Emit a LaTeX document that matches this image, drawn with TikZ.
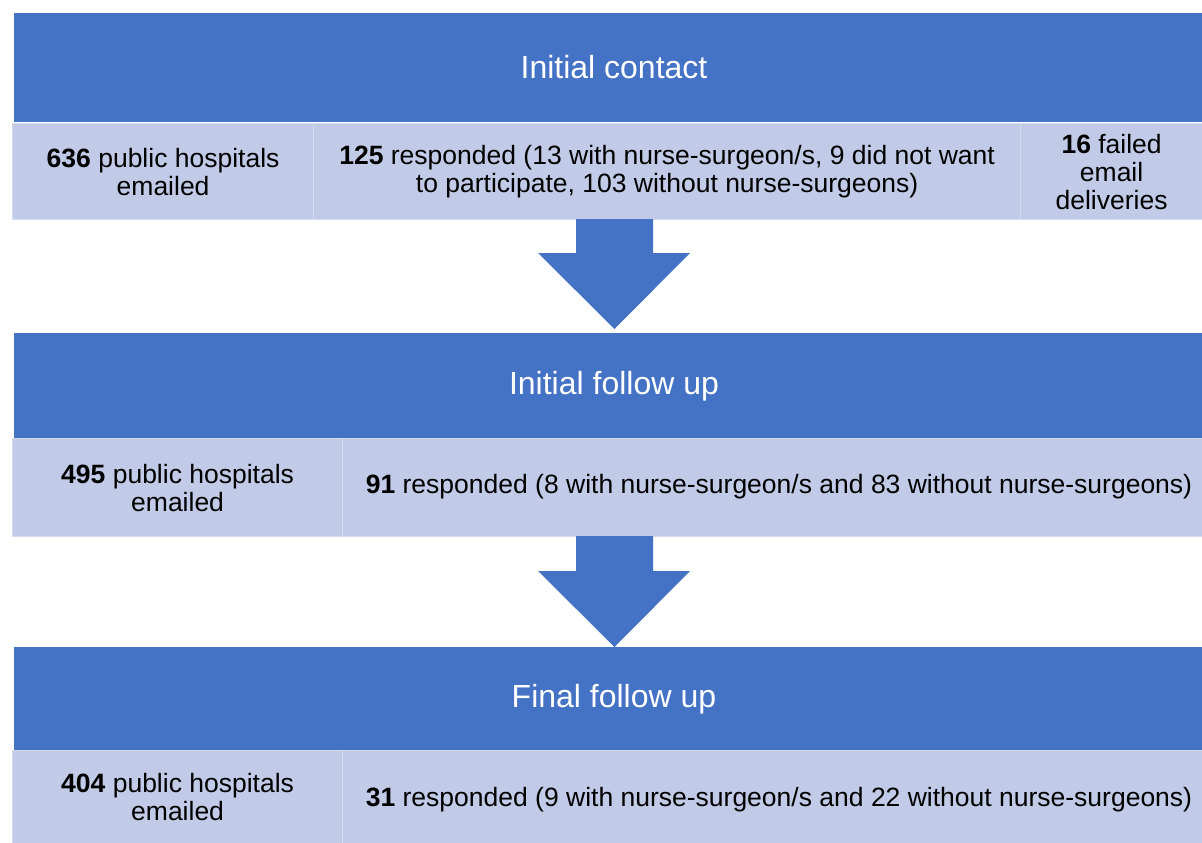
\documentclass[tikz,border=0pt]{standalone}
\usepackage{fontspec}
\setmainfont{Liberation Sans}
\definecolor{dark}{HTML}{4472C4}
\definecolor{light}{HTML}{C1CAE6}
\definecolor{sep}{HTML}{D4DBEF}
\begin{document}
\begin{tikzpicture}[x=1pt,y=-1pt,
  hdr/.style={fill=dark, draw=none, inner sep=0pt, anchor=north west, minimum width=1188pt},
  htext/.style={text=white, font=\fontsize{32}{38}\selectfont, inner sep=0pt},
  cell/.style={fill=light, draw=sep, line width=1.2pt, inner sep=0pt, anchor=north west},
  ctext/.style={font=\fontsize{26.5}{28}\selectfont, align=center, inner sep=0pt, text=black},
  blk/.style={fill=dark, draw=none}]
\useasboundingbox (0,0) rectangle (1202,843);
% stage 1
\node[hdr, minimum height=109pt] (h1) at (14,13) {};
\node[htext] (t1) at (614,67) {Initial contact};
\node[cell, minimum width=301pt, minimum height=96pt] (c11) at (12,123) {};
\node[cell, minimum width=707pt, minimum height=96pt] (c12) at (313,123) {};
\node[cell, minimum width=182pt, minimum height=96pt] (c13) at (1020,123) {};
\node[ctext] (x11) at (c11.center) {\textbf{636} public hospitals\\emailed};
\node[ctext] (x12) at (c12.center) {\textbf{125} responded (13 with nurse-surgeon/s, 9 did not want\\to participate, 103 without nurse-surgeons)};
\node[ctext] (x13) at ([xshift=0pt]c13.center) {\textbf{16} failed\\email\\deliveries};
% arrow 1
\fill[blk] (576,219) -- (653,219) -- (653,253) -- (690,253) -- (614.5,329) -- (538,253) -- (576,253) -- cycle;
% stage 2
\node[hdr, minimum height=105pt] (h2) at (14,333) {};
\node[htext] (t2) at (614,386) {Initial follow up};
\node[cell, minimum width=330pt, minimum height=98pt] (c21) at (12,438) {};
\node[cell, minimum width=860pt, minimum height=98pt] (c22) at (342,438) {};
\node[ctext] (x21) at (c21.center) {\textbf{495} public hospitals\\emailed};
\node[ctext] (x22) at (779,487) {\textbf{91} responded (8 with nurse-surgeon/s and 83 without nurse-surgeons)};
% arrow 2
\fill[blk] (576,536) -- (653,536) -- (653,571) -- (690,571) -- (614.5,647) -- (538,571) -- (576,571) -- cycle;
% stage 3
\node[hdr, minimum height=103pt] (h3) at (14,647) {};
\node[htext] (t3) at (614,699) {Final follow up};
\node[cell, minimum width=330pt, minimum height=94pt] (c31) at (12,750) {};
\node[cell, minimum width=860pt, minimum height=94pt] (c32) at (342,750) {};
\node[ctext] (x31) at ([yshift=1pt]c31.center) {\textbf{404} public hospitals\\emailed};
\node[ctext] (x32) at (779,800) {\textbf{31} responded (9 with nurse-surgeon/s and 22 without nurse-surgeons)};
\end{tikzpicture}
\end{document}
